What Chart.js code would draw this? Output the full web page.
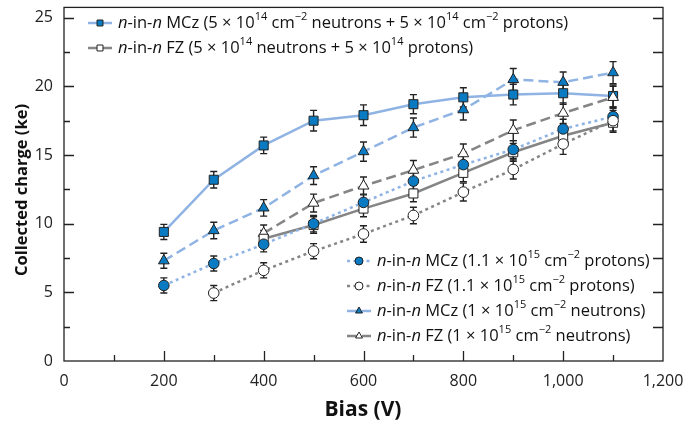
<!DOCTYPE html>
<html>
<head>
<meta charset="utf-8">
<script src="https://cdn.jsdelivr.net/npm/chart.js@4/dist/chart.umd.min.js"></script>
<style>
  html, body { margin: 0; background: #fff; }
  #wrap { width: 684px; height: 431px; }
</style>
</head>
<body>
<div id="wrap"><canvas id="chart" width="684" height="431"></canvas></div>
<script>
// bias voltages (V)
const bias = [200, 300, 400, 500, 600, 700, 800, 900, 1000, 1100];

// collected charge (ke)
const mczMixed    = [9.4, 13.2, 15.7, 17.5, 17.9, 18.7, 19.2, 19.4, 19.5, 19.3];
const fzMixed     = [null, null, 8.9, 9.9, 11.1, 12.2, 13.7, 15.2, 16.4, 17.35];
const mczProtons  = [5.5, 7.1, 8.5, 10.0, 11.55, 13.1, 14.3, 15.4, 16.9, 17.8];
const fzProtons   = [null, 4.95, 6.6, 8.0, 9.25, 10.6, 12.3, 13.95, 15.8, 17.5];
const mczNeutrons = [7.3, 9.5, 11.15, 13.5, 15.25, 17.0, 18.3, 20.5, 20.3, 21.0];
const fzNeutrons  = [null, null, 9.3, 11.5, 12.75, 13.9, 15.1, 16.8, 18.05, 19.2];

// error bars (+/- ke)
const mczMixedErr    = [0.55, 0.6, 0.6, 0.75, 0.75, 0.7, 0.7, 0.75, 0.8, 0.8];
const fzMixedErr     = [0, 0, 0.6, 0.6, 0.6, 0.6, 0.65, 0.65, 0.7, 0.7];
const mczProtonsErr  = [0.55, 0.55, 0.55, 0.6, 0.6, 0.6, 0.65, 0.65, 0.7, 0.7];
const fzProtonsErr   = [0, 0.55, 0.55, 0.55, 0.6, 0.6, 0.65, 0.7, 0.75, 0.75];
const mczNeutronsErr = [0.55, 0.6, 0.6, 0.65, 0.7, 0.7, 0.75, 0.8, 0.75, 0.8];
const fzNeutronsErr  = [0, 0, 0.6, 0.65, 0.65, 0.7, 0.7, 0.75, 0.75, 0.8];

const xTicks = [0, 200, 400, 600, 800, 1000, 1200];
const yTicks = [0, 5, 10, 15, 20, 25];

const FONT = "'Open Sans', sans-serif";
const lightBlue = "#8fb3e3";
const markBlue = "#0a7bc2";
const gray = "#858585";

function pts(arr) {
    return bias.map((b, i) => ({ x: b, y: arr[i] }));
}

function series(label, arr, err, color, dash, style, radius, filled) {
    return {
        label: label,
        data: pts(arr),
        errors: err,
        borderColor: color,
        borderWidth: 2.5,
        borderDash: dash,
        pointStyle: style,
        pointRadius: radius,
        pointBorderColor: "#222",
        pointBorderWidth: 1,
        pointBackgroundColor: filled ? markBlue : "#fff",
        spanGaps: false,
        tension: 0
    };
}

const datasets = [
    series("fzProtons", fzProtons, fzProtonsErr, gray, [3, 3.5], "circle", 5.3, false),
    series("mczProtons", mczProtons, mczProtonsErr, lightBlue, [3, 3.5], "circle", 5.3, true),
    series("fzMixed", fzMixed, fzMixedErr, gray, [], "rect", 6.4, false),
    series("fzNeutrons", fzNeutrons, fzNeutronsErr, gray, [10, 5], "triangle", 6.2, false),
    series("mczNeutrons", mczNeutrons, mczNeutronsErr, lightBlue, [10, 5], "triangle", 6.2, true),
    series("mczMixed", mczMixed, mczMixedErr, lightBlue, [], "rect", 6.4, true)
];

// legend rows: dataset index, position, rich text pieces (i: italic, s: superscript)
const legendRows = [
    { ds: 5, x: 88, y: 23, text: ["i:n", "-in-", "i:n", " MCz (5 × 10", "s:14", " cm", "s:−2", " neutrons + 5 × 10", "s:14", " cm", "s:−2", " protons)"] },
    { ds: 2, x: 88, y: 48, text: ["i:n", "-in-", "i:n", " FZ (5 × 10", "s:14", " neutrons + 5 × 10", "s:14", " protons)"] },
    { ds: 1, x: 347, y: 261, text: ["i:n", "-in-", "i:n", " MCz (1.1 × 10", "s:15", " cm", "s:−2", " protons)"] },
    { ds: 0, x: 347, y: 286, text: ["i:n", "-in-", "i:n", " FZ (1.1 × 10", "s:15", " cm", "s:−2", " protons)"] },
    { ds: 4, x: 347, y: 311, text: ["i:n", "-in-", "i:n", " MCz (1 × 10", "s:15", " cm", "s:−2", " neutrons)"] },
    { ds: 3, x: 347, y: 336, text: ["i:n", "-in-", "i:n", " FZ (1 × 10", "s:15", " cm", "s:−2", " neutrons)"] }
];

const errorBars = {
    id: "errorBars",
    beforeDatasetsDraw(chart) {
        const ctx = chart.ctx;
        const xs = chart.scales.x, ys = chart.scales.y;
        ctx.save();
        ctx.strokeStyle = "#222";
        ctx.lineWidth = 1.4;
        chart.data.datasets.forEach(ds => {
            ds.data.forEach((p, i) => {
                if (p.y == null) return;
                const e = ds.errors[i];
                const px = xs.getPixelForValue(p.x);
                const top = ys.getPixelForValue(p.y + e);
                const bot = ys.getPixelForValue(p.y - e);
                ctx.beginPath();
                ctx.moveTo(px, top); ctx.lineTo(px, bot);
                ctx.moveTo(px - 3.5, top); ctx.lineTo(px + 3.5, top);
                ctx.moveTo(px - 3.5, bot); ctx.lineTo(px + 3.5, bot);
                ctx.stroke();
            });
        });
        ctx.restore();
    }
};

const frame = {
    id: "frame",
    afterDatasetsDraw(chart) {
        const ctx = chart.ctx;
        const a = chart.chartArea;
        const xs = chart.scales.x, ys = chart.scales.y;
        ctx.save();
        ctx.strokeStyle = "#222";
        ctx.lineWidth = 1.3;
        ctx.strokeRect(a.left, a.top, a.right - a.left, a.bottom - a.top);
        ctx.beginPath();
        for (let v = 100; v < 1200; v += 100) {
            const px = Math.round(xs.getPixelForValue(v)) + 0.5;
            const len = v % 200 === 0 ? 10 : 6;
            ctx.moveTo(px, a.bottom); ctx.lineTo(px, a.bottom - len);
        }
        for (let v = 2.5; v <= 25; v += 2.5) {
            const py = Math.round(ys.getPixelForValue(v)) + 0.5;
            const len = v % 5 === 0 ? 10 : 6;
            ctx.moveTo(a.left, py); ctx.lineTo(a.left + len, py);
            ctx.moveTo(a.right, py); ctx.lineTo(a.right - 10, py);
        }
        ctx.stroke();

        // axis titles
        ctx.fillStyle = "#111";
        ctx.textAlign = "center";
        ctx.textBaseline = "middle";
        ctx.font = "bold 21px " + FONT;
        ctx.fillText("Bias (V)", 363, 410);
        ctx.translate(22, 190);
        ctx.rotate(-Math.PI / 2);
        ctx.font = "bold 16.5px " + FONT;
        ctx.fillText("Collected charge (ke)", 0, 0);
        ctx.restore();
    }
};

const richLegend = {
    id: "richLegend",
    afterDraw(chart) {
        const ctx = chart.ctx;
        ctx.save();
        legendRows.forEach(row => {
            const ds = chart.data.datasets[row.ds];
            ctx.strokeStyle = ds.borderColor;
            ctx.lineWidth = 2.5;
            ctx.setLineDash(ds.borderDash);
            ctx.beginPath();
            ctx.moveTo(row.x, row.y); ctx.lineTo(row.x + 24, row.y);
            ctx.stroke();
            ctx.setLineDash([]);
            ctx.fillStyle = ds.pointBackgroundColor;
            ctx.strokeStyle = "#222";
            ctx.lineWidth = 1;
            Chart.helpers.drawPoint(ctx, {
                pointStyle: ds.pointStyle,
                radius: ds.pointStyle === "rect" ? 4.2 : 4,
                rotation: 0,
                borderWidth: 1
            }, row.x + 12, row.y);

            let tx = row.x + 30;
            ctx.fillStyle = "#111";
            ctx.textBaseline = "middle";
            ctx.textAlign = "left";
            row.text.forEach(piece => {
                let txt = piece, dy = 0, font = "16.5px " + FONT;
                if (piece.startsWith("i:")) { txt = piece.slice(2); font = "italic 16.5px " + FONT; }
                else if (piece.startsWith("s:")) { txt = piece.slice(2); font = "11px " + FONT; dy = -6; }
                ctx.font = font;
                ctx.fillText(txt, tx, row.y + dy);
                tx += ctx.measureText(txt).width;
            });
        });
        ctx.restore();
    }
};

new Chart(document.getElementById("chart"), {
    type: "line",

    data: {
        datasets: datasets
    },

    options: {
        responsive: false,
        animation: false,
        layout: {
            padding: { top: 5, right: 21, left: 0, bottom: 0 }
        },
        plugins: {
            legend: { display: false },
            tooltip: { enabled: false }
        },
        scales: {
            x: {
                type: "linear",
                min: 0,
                max: 1200,
                grid: { display: false, drawTicks: false },
                border: { display: false },
                afterBuildTicks(scale) {
                    scale.ticks = xTicks.map(v => ({ value: v }));
                },
                afterFit(scale) {
                    scale.height = 70;
                    scale.paddingLeft = 0;
                    scale.paddingRight = 0;
                },
                ticks: {
                    padding: 11,
                    maxRotation: 0,
                    color: "#222",
                    font: { family: FONT, size: 16 },
                    callback: v => v.toLocaleString("en-US")
                }
            },
            y: {
                min: 0,
                max: 25.75,
                grid: { display: false, drawTicks: false },
                border: { display: false },
                afterBuildTicks(scale) {
                    scale.ticks = yTicks.map(v => ({ value: v }));
                },
                afterFit(scale) {
                    scale.width = 64;
                    scale.paddingTop = 0;
                    scale.paddingBottom = 0;
                },
                ticks: {
                    padding: 11,
                    color: "#222",
                    font: { family: FONT, size: 16 }
                }
            }
        }
    },

    plugins: [errorBars, frame, richLegend]
});
</script>
</body>
</html>
